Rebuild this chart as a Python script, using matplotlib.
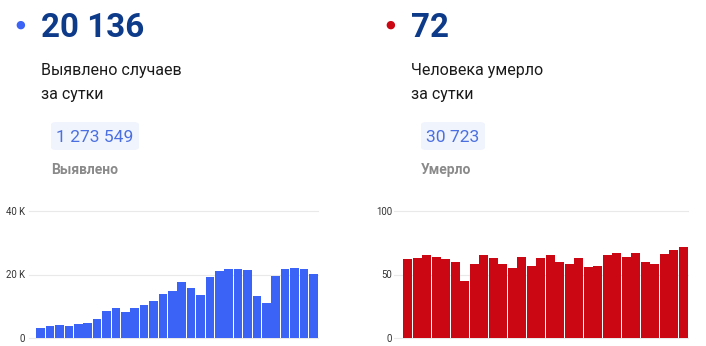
import matplotlib

matplotlib.use("Agg")
import matplotlib.pyplot as plt
from matplotlib.patches import FancyBboxPatch

plt.rcParams["font.family"] = ["Roboto", "DejaVu Sans"]

# daily values (30 days)
cases_daily = [3300, 3900, 4000, 3900, 4300, 4600, 5900, 8400, 9500, 8300,
               9600, 10500, 11800, 13900, 14900, 17700, 15700, 13500, 19200, 21200,
               21800, 21700, 21400, 13300, 10900, 19600, 21600, 22000, 21600, 20136]
deaths_daily = [62, 63, 65, 64, 62, 60, 45, 58, 65, 63,
                58, 55, 64, 57, 63, 65, 60, 58, 63, 56,
                57, 65, 67, 64, 67, 60, 58, 66, 69, 72]

cases_ticks = [0, 20000, 40000]
cases_tick_labels = ["0", "20 K", "40 K"]
deaths_ticks = [0, 50, 100]
deaths_tick_labels = ["0", "50", "100"]

headline = ["20 136", "72"]
caption = [["Выявлено случаев", "за сутки"], ["Человека умерло", "за сутки"]]
totals = ["1 273 549", "30 723"]
total_labels = ["Выявлено", "Умерло"]

BLUE = "#3b63f6"
RED = "#cc0714"
NAVY = "#0e3a8a"

W, H = 706, 346
fig = plt.figure(figsize=(W / 100, H / 100), dpi=100)


def px(x, y):
    return x / W, 1 - y / H


def draw_bars(left, right, top, bottom, gap, values, color, ticks, labels, pad):
    ax = fig.add_axes([left / W, 1 - bottom / H, (right - left) / W, (bottom - top) / H])
    n = len(values)
    ax.bar(range(n), values, width=0.9, color=color, zorder=2)
    ax.set_xlim(-0.5 - gap, n - 0.5)
    ax.set_ylim(ticks[0], ticks[-1])
    for t in ticks:
        ax.axhline(t, color="#e9e9e9", lw=0.8, zorder=0, clip_on=False)
    ax.set_yticks(ticks)
    ax.set_yticklabels(labels)
    ax.tick_params(axis="y", length=0, pad=pad, labelsize=6.9, labelcolor="#333333")
    ax.set_xticks([])
    for s in ax.spines.values():
        s.set_visible(False)
    ax.patch.set_visible(False)
    return ax


draw_bars(29, 318, 211, 338, 7 / 9.4, cases_daily, BLUE, cases_ticks, cases_tick_labels, 3)
draw_bars(394, 688, 211, 338, 9 / 9.5, deaths_daily, RED, deaths_ticks, deaths_tick_labels, 1.5)

# header blocks
blocks = [
    dict(dot=(20.7, 25), dot_color=BLUE, x=41, pill=(51, 122, 88, 28)),
    dict(dot=(390.7, 25), dot_color=RED, x=411, pill=(421, 122, 64, 28)),
]
for i, b in enumerate(blocks):
    fig.text(*px(*b["dot"]), "●", color=b["dot_color"], fontsize=8, ha="center", va="center")
    fig.text(*px(b["x"], 37), headline[i], color=NAVY, fontsize=23.9,
             fontweight="bold", va="baseline")
    fig.text(*px(b["x"], 75), caption[i][0], color="#1a1a1a", fontsize=11.5, va="baseline")
    fig.text(*px(b["x"], 99), caption[i][1], color="#1a1a1a", fontsize=11.5, va="baseline")
    x0, y0, w, h = b["pill"]
    fig.patches.append(FancyBboxPatch(
        (x0 / W, 1 - (y0 + h) / H), w / W, h / H,
        boxstyle="round,pad=0,rounding_size=0.008", transform=fig.transFigure,
        facecolor="#f0f4fd", edgecolor="none", zorder=0))
    fig.text(*px(x0 + w / 2, 141.7), totals[i], color="#4b6fe0", fontsize=12.6,
             ha="center", va="baseline")
    fig.text(*px(x0, 174), total_labels[i], color="#8a8a8a", fontsize=10,
             fontweight="bold", va="baseline")

fig.savefig("out.png", dpi=100)
